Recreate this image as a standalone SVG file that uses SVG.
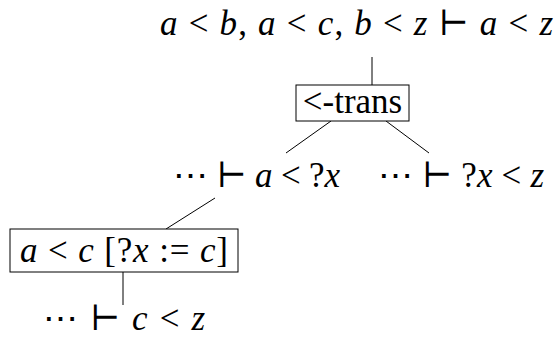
<svg xmlns="http://www.w3.org/2000/svg" width="560" height="339" viewBox="0 0 560 339">
<style>
text{font-family:"Liberation Serif","Times New Roman","DejaVu Serif",serif;font-size:35px;fill:#000}
.i{font-style:italic}
.box{fill:#fff;stroke:#000;stroke-width:1}
.edge{stroke:#000;stroke-width:1;fill:none}
</style>
<rect width="560" height="339" fill="#fff"/>
<g id="connectors">
<line class="edge" x1="372" y1="57" x2="372" y2="85"/>
<line class="edge" x1="331" y1="121" x2="286" y2="153"/>
<line class="edge" x1="386" y1="121" x2="429" y2="153"/>
<line class="edge" x1="215" y1="198" x2="166" y2="229"/>
<line class="edge" x1="123" y1="272" x2="123" y2="305"/>
</g>
<g id="root">
<text x="160" y="35" textLength="393" lengthAdjust="spacing"><tspan class="i">a</tspan> &lt; <tspan class="i">b</tspan>, <tspan class="i">a</tspan> &lt; <tspan class="i">c</tspan>, <tspan class="i">b</tspan> &lt; <tspan class="i">z</tspan> ⊢ <tspan class="i">a</tspan> &lt; <tspan class="i">z</tspan></text>
</g>
<g id="trans">
<rect class="box" x="296" y="85" width="113" height="36"/>
<text x="352.5" y="113" text-anchor="middle">&lt;-trans</text>
</g>
<g id="left">
<text x="173" y="187" textLength="167" lengthAdjust="spacing">⋯ ⊢ <tspan class="i">a</tspan> &lt; ?<tspan class="i">x</tspan></text>
</g>
<g id="right">
<text x="378" y="187" textLength="166" lengthAdjust="spacing">⋯ ⊢ ?<tspan class="i">x</tspan> &lt; <tspan class="i">z</tspan></text>
</g>
<g id="subst">
<rect class="box" x="10" y="229" width="228" height="43"/>
<text x="20" y="262" textLength="208" lengthAdjust="spacing"><tspan class="i">a</tspan> &lt; <tspan class="i">c</tspan> [?<tspan class="i">x</tspan> := <tspan class="i">c</tspan>]</text>
</g>
<g id="leaf">
<text x="43" y="330" textLength="162" lengthAdjust="spacing">⋯ ⊢ <tspan class="i">c</tspan> &lt; <tspan class="i">z</tspan></text>
</g>
</svg>
